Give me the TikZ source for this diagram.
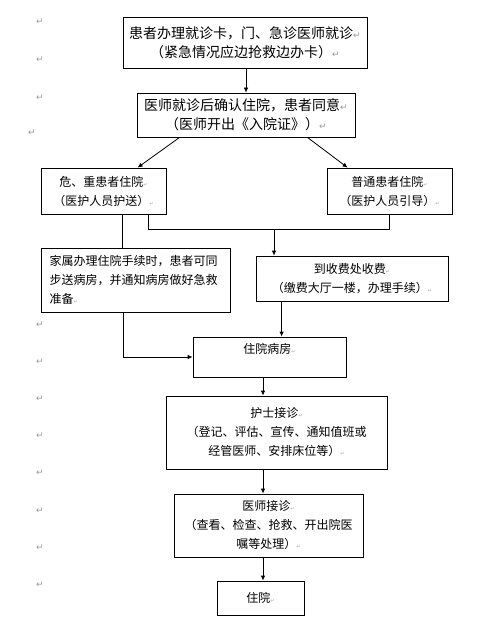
\documentclass[tikz,border=0pt]{standalone}
\usepackage{fontspec}
\setmainfont{Noto Sans CJK SC}
\newfontfamily\symfont{DejaVu Sans}
\usetikzlibrary{arrows.meta,calc}

\newcommand{\retmark}{{\symfont\fontsize{9}{9}\selectfont\textcolor{gray!80}{↵}}}
\newcommand{\tinymark}{{\symfont\fontsize{5}{5}\selectfont\textcolor{gray!70}{↵}}}

\tikzset{
  box/.style={draw, line width=0.8pt, inner sep=0pt, align=center,
    font=\fontsize{12}{19}\selectfont},
  bigbox/.style={box, font=\fontsize{14}{19}\selectfont},
  arr/.style={line width=0.8pt, -{Latex[length=5pt,width=4.5pt]}},
  line/.style={line width=0.8pt},
  margmark/.style={inner sep=0pt, font=\symfont\fontsize{9}{9}\selectfont, text=gray!80}
}

\begin{document}
\begin{tikzpicture}[x=1pt,y=-1pt]
  \useasboundingbox (0,0) rectangle (492,620);

  % Margin paragraph marks
  \foreach \y in {22,60,98,325,362,399,436,473,511,548,585}
    \node[margmark] (m\y) at (40,\y) {↵};
  \node[margmark] (m133) at (32,133) {↵};

  % Admission steps
  \node[bigbox, minimum width=244pt, minimum height=51pt] (card) at (245,42.5)
    {患者办理就诊卡，门、急诊医师就诊\retmark\\（紧急情况应边抢救边办卡）\retmark};
  \node[bigbox, minimum width=218pt, minimum height=44pt] (confirm) at (246,115)
    {医师就诊后确认住院，患者同意\retmark\\（医师开出《入院证》）\retmark};

  % Two kinds of patients
  \node[box, minimum width=125pt, minimum height=46pt] (severe) at (103.5,191)
    {危、重患者住院\tinymark\\（医护人员护送）\tinymark};
  \node[box, minimum width=125pt, minimum height=46pt] (normal) at (389.5,191)
    {普通患者住院\tinymark\\（医护人员引导）\tinymark};

  % Formalities
  \node[box, minimum width=189pt, minimum height=64pt, text width=172pt, align=left] (family) at (135.5,280)
    {家属办理住院手续时，患者可同\\步送病房，并通知病房做好急救\\准备\tinymark};
  \node[box, minimum width=192pt, minimum height=45pt] (fee) at (352,278.5)
    {到收费处收费\tinymark\\（缴费大厅一楼，办理手续）\tinymark};

  % Ward
  \node[box, minimum width=153pt, minimum height=40pt,
    label={[anchor=north, inner sep=0pt, yshift=-7pt, font=\fontsize{12}{19}\selectfont]north:住院病房\tinymark}] (ward) at (269.5,357) {};
  \node[box, minimum width=221pt, minimum height=73pt] (nurse) at (276.5,432.5)
    {护士接诊\tinymark\\（登记、评估、宣传、通知值班或\\经管医师、安排床位等）\tinymark};
  \node[box, minimum width=189pt, minimum height=63pt] (doctor) at (268.5,525.5)
    {医师接诊\tinymark\\（查看、检查、抢救、开出院医\\嘱等处理）\tinymark};
  \node[box, minimum width=87pt, minimum height=34pt] (stay) at (260.5,598)
    {住院\tinymark};

  \coordinate (join) at (274,229);
  \coordinate (spine) at (263,0);

  % Connectors
  \draw[arr] (card.south -| confirm.north) -- (confirm.north);
  \draw[arr] ($(confirm.south west)+(43,0)$) -- ($(severe.north west)+(97,0)$);
  \draw[arr] ($(confirm.south east)+(-48,0)$) -- ($(normal.north west)+(21,0)$);
  \draw[line] ($(severe.south west)+(82,0)$) coordinate (s1) -- (s1 |- family.north);
  \draw[line] ($(severe.south west)+(108,0)$) coordinate (s2) |- (normal.south |- join) -- (normal.south);
  \draw[arr] (join) -- (join |- fee.north);
  \draw[arr] ($(fee.south west)+(26,0)$) coordinate (f1) -- (f1 |- ward.north);
  \draw[arr] ($(family.south west)+(83,0)$) |- (ward.west);
  \draw[arr] (ward.south -| spine) -- (nurse.north -| spine);
  \draw[arr] (nurse.south -| spine) -- (doctor.north -| spine);
  \draw[arr] (doctor.south -| spine) -- (stay.north -| spine);
\end{tikzpicture}
\end{document}
